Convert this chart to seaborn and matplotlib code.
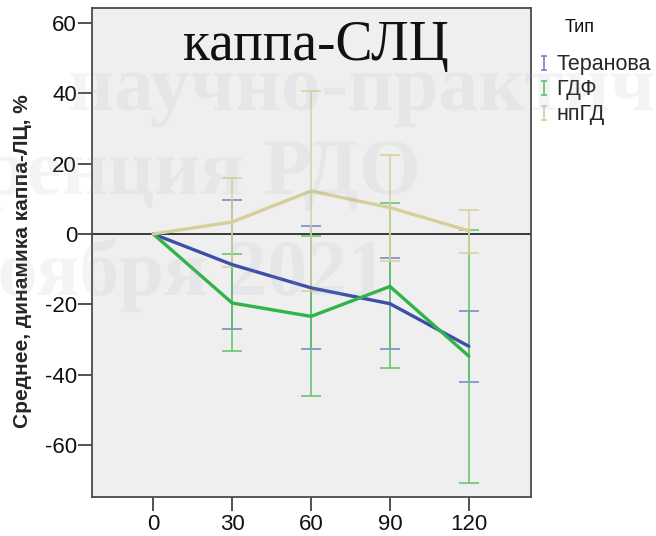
import numpy as np
import pandas as pd
import seaborn as sns
import matplotlib
matplotlib.use("Agg")
import matplotlib.pyplot as plt
from matplotlib.lines import Line2D
from matplotlib.path import Path
from matplotlib.textpath import TextPath
from matplotlib.patches import PathPatch
from matplotlib.transforms import Affine2D
from matplotlib.font_manager import FontProperties

# ---- data: mean change of kappa free light chains (%) with 95% CI ----
time_points = [0, 30, 60, 90, 120]
groups = ["Теранова", "ГДФ", "нпГД"]

teranova_mean = [0, -8.7, -15.3, -19.8, -31.9]
teranova_low = [0, -26.9, -32.8, -32.8, -42.0]
teranova_high = [0, 9.6, 2.4, -6.8, -21.8]

gdf_mean = [0, -19.6, -23.4, -14.9, -34.7]
gdf_low = [0, -33.1, -46.0, -38.2, -70.6]
gdf_high = [0, -5.8, -0.6, 8.8, 1.0]

npgd_mean = [0, 3.4, 12.2, 7.5, 0.9]
npgd_low = [0, -9.4, -16.3, -7.7, -5.4]
npgd_high = [0, 16.0, 40.7, 22.4, 6.8]

y_ticks = [-60, -40, -20, 0, 20, 40, 60]
title_text = "каппа-СЛЦ"
y_label = "Среднее, динамика каппа-ЛЦ, %"
legend_title = "Тип"
watermark_rows = ["научно-практической", "конференция РДО", "ноября 2021"]

line_colors = {"Теранова": "#3d4ea8", "ГДФ": "#2fb449", "нпГД": "#d5cf9c"}
bar_colors = {"Теранова": "#7482c6", "ГДФ": "#5cc466", "нпГД": "#d9d09a"}

means = {"Теранова": teranova_mean, "ГДФ": gdf_mean, "нпГД": npgd_mean}
lows = {"Теранова": teranova_low, "ГДФ": gdf_low, "нпГД": npgd_low}
highs = {"Теранова": teranova_high, "ГДФ": gdf_high, "нпГД": npgd_high}

df = pd.concat(
    [pd.DataFrame({"Время": time_points, "Среднее": means[g], "Тип": g,
                   "low": lows[g], "high": highs[g]}) for g in groups],
    ignore_index=True,
)

# ---- styling ----
sns.set_style("white")
plt.rcParams["font.family"] = ["Liberation Sans", "DejaVu Sans"]
plt.rcParams["axes.unicode_minus"] = False

W, H = 656, 536
fig = plt.figure(figsize=(W / 100, H / 100), dpi=100)
ax = fig.add_axes([91.7 / W, (H - 497) / H, (530.7 - 91.7) / W, (497 - 8.3) / H])
ax.set_facecolor("#efefef")

# confidence-interval whiskers
for g in groups:
    sub = df[(df["Тип"] == g) & (df["Время"] > 0)]
    yerr = np.vstack([sub["Среднее"] - sub["low"], sub["high"] - sub["Среднее"]])
    ax.errorbar(sub["Время"], sub["Среднее"], yerr=yerr, fmt="none",
                ecolor=bar_colors[g], elinewidth=1.1, capsize=7.2,
                capthick=1.1, zorder=2)

ax.axhline(0, color="#1a1a1a", lw=1.2, zorder=1.5)

# mean lines
sns.lineplot(data=df, x="Время", y="Среднее", hue="Тип", hue_order=groups,
             palette=line_colors, linewidth=2.4, legend=False, sort=False,
             ax=ax, zorder=3)

ax.set_xlim(-23.4, 143.5)
ax.set_ylim(-74.7, 64.1)
ax.set_xticks(time_points)
ax.set_yticks(y_ticks)
ax.set_xticklabels([str(t) for t in time_points])
ax.set_yticklabels([str(t) for t in y_ticks])
ax.tick_params(axis="both", which="major", bottom=True, left=True,
               direction="out", length=10, width=1.2,
               color="#333333", labelsize=16, labelcolor="#111111")
ax.tick_params(axis="y", pad=0.5)
ax.tick_params(axis="x", pad=2)
ax.set_xlabel("")
ax.set_ylabel(y_label, fontsize=15, fontweight="bold")
ax.yaxis.set_label_coords(-0.136, 0.483)
for sp in ax.spines.values():
    sp.set_color("#4a4a4a")
    sp.set_linewidth(1.3)

fig.text(316 / W, (H - 60) / H, title_text, ha="center", va="baseline",
         fontsize=40, family=["Liberation Serif", "DejaVu Serif"], color="#111111")

# legend with "I"-shaped whisker markers
ibar = Path([(-0.5, 1), (0.5, 1), (0, 1), (0, -1), (-0.5, -1), (0.5, -1)],
            [Path.MOVETO, Path.LINETO, Path.MOVETO, Path.LINETO, Path.MOVETO, Path.LINETO])
handles = [Line2D([], [], linestyle="none", marker=ibar, markersize=10,
                  markeredgecolor=bar_colors[g], markerfacecolor="none",
                  markeredgewidth=1.2) for g in groups]
fig.text(580 / W, (H - 28) / H, legend_title, ha="center", va="center",
         fontsize=13, color="#111111")
leg = fig.legend(handles, groups, loc="upper left",
                 bbox_to_anchor=(533 / W, (H - 50) / H), frameon=False,
                 fontsize=15.5, handlelength=0.6,
                 handletextpad=0.3, labelspacing=0.18, borderaxespad=0,
                 borderpad=0.2)

# faint conference watermark across the figure
fp = FontProperties(family="Liberation Serif", weight="bold")
wm_color = "#8fa0b4"


def watermark(text, x_px, base_px, align="left", size=80):
    tp = TextPath((0, 0), text, size=size, prop=fp)
    ext = tp.get_extents()
    if align == "right":
        x_px -= ext.x1
    tr = Affine2D().translate(x_px, H - base_px)
    fig.add_artist(PathPatch(tp, transform=tr, facecolor=wm_color,
                             edgecolor="none", alpha=0.11, zorder=10))


watermark(watermark_rows[0], 68, 110)
watermark(watermark_rows[1], 417, 194, align="right")
watermark(watermark_rows[2], 383, 295, align="right")

fig.savefig("out.png", dpi=100)
